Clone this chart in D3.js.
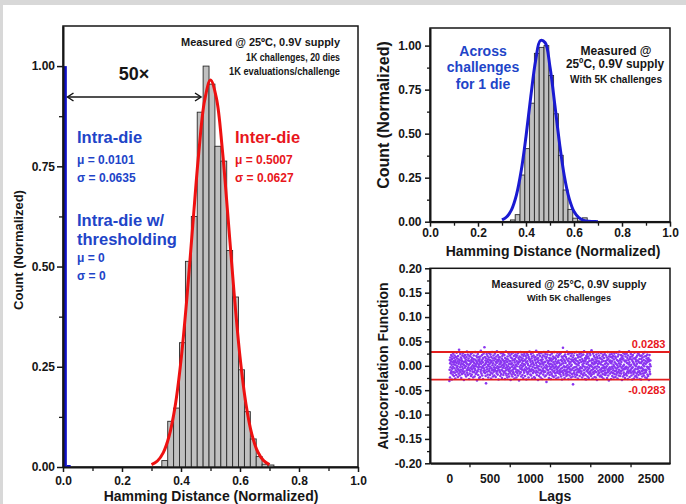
<!DOCTYPE html>
<html><head><meta charset="utf-8">
<script src="https://cdn.jsdelivr.net/npm/d3@7"></script>
<style>
body{margin:0;background:#fff}
svg{display:block}
</style>
</head><body>
<svg id="c" width="686" height="504"></svg>
<script>
// ---------------- DATA ----------------
// Left panel: inter-die HD histogram (bin centers, width 0.02)
const interBinCenters = [0.345,0.365,0.385,0.405,0.425,0.445,0.465,0.485,0.505,0.525,0.545,0.565,0.585,0.605,0.625,0.645,0.665,0.685,0.705];
const interCounts     = [0.016,0.114,0.147,0.31,0.513,0.625,0.885,1.0,0.955,0.80,0.763,0.54,0.424,0.2425,0.138,0.07,0.026,0.007,0.005];
// Intra-die histogram (bin starts, width 0.013)
const intraBinStarts = [0, 0.013];
const intraCounts    = [1.0, 0.005];
// Inter-die Gaussian fit
const interFitX = [0.30,0.32,0.34,0.36,0.38,0.40,0.42,0.44,0.46,0.48,0.50,0.52,0.54,0.56,0.58,0.60,0.62,0.64,0.66,0.68,0.70];
const interFitY = [0.006,0.015,0.036,0.078,0.151,0.266,0.422,0.604,0.782,0.914,0.965,0.920,0.793,0.617,0.434,0.275,0.158,0.082,0.038,0.016,0.006];
// Right-top panel: across challenges for 1 die
const acrossBinCenters = [0.345,0.365,0.385,0.405,0.425,0.445,0.465,0.485,0.505,0.525,0.545,0.565,0.585,0.605,0.625,0.645];
const acrossCounts     = [0.01,0.04,0.265,0.415,0.673,0.956,0.99,1.0,0.83,0.613,0.377,0.18,0.07,0.02,0.004,0.022];
const acrossFitX = [0.30,0.32,0.34,0.36,0.38,0.40,0.42,0.44,0.46,0.48,0.50,0.52,0.54,0.56,0.58,0.60,0.62,0.64,0.66,0.68,0.70];
const acrossFitY = [0.010,0.028,0.069,0.151,0.289,0.484,0.711,0.914,1.029,1.016,0.878,0.665,0.442,0.257,0.131,0.058,0.023,0.008,0.002,0.001,0.000];
// Right-bottom panel: autocorrelation (values in thousandths), lag = 1 + 2.5*index
const acfLagStart = 1, acfLagStep = 2.5;
const acfMilli = [
-31,-8,12,-24,5,17,-3,-15,9,22,-11,2,-28,14,-6,19,-18,7,-2,25,-13,10,-21,3,16,
-5,21,-14,8,-26,12,1,-9,18,-19,6,27,-4,-12,15,-1,9,-23,20,-7,4,-16,13,33,-10,
7,-20,11,-3,24,-13,2,17,-8,-25,14,5,-17,10,-2,21,-11,26,-6,3,-15,19,-29,8,1,
-12,16,-4,22,-18,9,-1,13,-22,6,18,-9,29,-14,3,-6,23,-19,11,-3,15,-8,2,-27,20,
10,-16,4,-10,19,-5,24,-21,7,12,-2,-18,16,-7,27,-12,1,9,-24,14,-4,21,-13,6,-1,
-22,13,-6,28,-9,3,-17,11,-1,20,-14,8,-30,17,5,-11,24,-3,-19,12,-7,2,18,-25,9,
14,-2,-23,6,19,-12,31,-8,4,-16,10,-4,22,-20,13,-1,7,-27,16,-10,25,-5,1,-13,38,
-9,18,-15,3,11,-21,6,-36,15,-3,24,-12,9,-7,20,-18,2,13,-24,8,-1,17,-11,26,-6,
4,-19,12,-2,23,-14,7,-26,18,-5,10,-9,28,-16,1,15,-22,5,-8,21,-12,11,-3,-20,16,
-7,25,-10,2,14,-23,8,-4,19,-15,6,30,-11,12,-1,-18,22,-6,9,-28,17,-3,13,-9,3,
18,-13,5,-21,10,-2,26,-17,7,-8,15,-25,1,20,-10,12,-4,24,-19,3,-14,9,-1,22,-12,
6,-27,16,-5,11,-16,29,-9,2,-20,14,-3,8,-24,19,-7,13,-1,-17,25,-11,4,-22,10,-6,
21,-4,-14,9,-29,17,3,-10,24,-18,5,-2,15,-22,11,-8,27,-13,1,-16,20,-5,12,-26,7,
-3,14,-19,23,-7,2,-12,18,-24,10,-1,21,-15,6,-9,26,-20,4,16,-11,8,-30,13,-2,19,
-16,9,-6,28,-13,1,17,-22,12,-4,23,-8,5,-19,15,-1,10,-25,20,-10,3,-14,24,-7,11,
2,-21,13,-9,20,-3,7,-28,16,-12,25,-6,9,-17,4,22,-14,1,-24,18,-5,14,-11,29,-8,
12,-1,-18,8,-11,24,-20,3,15,-7,19,-26,10,-2,27,-15,6,-9,21,-12,2,-23,17,-4,13,
-25,11,-5,18,-14,6,31,-10,1,-19,14,-3,22,-13,8,-29,16,-6,11,-1,-21,25,-9,5,-16,
20,-8,3,-24,12,-15,26,-2,9,-11,17,-27,5,13,-6,21,-18,2,-10,28,-13,7,-3,19,-22,
8,-12,24,-4,15,-20,1,-33,18,-7,11,-2,23,-16,6,-9,30,-14,10,-25,4,16,-1,-19,12,
-6,22,-13,4,-27,15,-3,10,-17,25,-8,2,-21,13,-1,19,-12,7,-23,16,-5,28,-10,3,-15,
17,-3,9,-20,14,-1,-26,21,-7,5,-14,27,-11,8,-4,18,-24,11,-2,22,-16,6,-9,24,-13,
1,-18,26,-6,12,-22,3,-12,19,-28,9,-4,16,-10,37,-15,5,-19,13,-1,20,-8,-25,10,-3,
23,-11,6,-16,18,-2,-21,14,-8,29,-13,1,-18,11,-5,24,-27,9,-3,15,-12,4,-20,26,-7,
-14,7,-1,20,-24,13,-9,2,25,-17,10,-6,-22,17,-38,12,-4,21,-15,8,-10,27,-3,-18,14,
5,-23,15,-8,11,-2,28,-14,3,-19,22,-6,9,-26,17,-11,1,19,-13,6,-7,24,-21,12,-4,
-10,18,-3,26,-16,8,-12,21,-5,-24,14,2,-18,10,-1,23,-20,5,-9,30,-15,11,-2,-27,16,
9,-6,-19,13,-28,20,4,-11,16,-3,24,-22,7,-8,19,-14,2,-25,15,-5,10,-17,26,-1,-12,
22,-15,1,-21,11,-9,32,-18,6,-2,14,-26,12,-7,25,-13,3,-16,20,-4,8,-23,17,-11,5,
-2,13,-24,7,-13,23,-6,10,-29,18,-1,15,-19,4,-10,27,-16,9,-3,21,-14,6,-22,16,-8,
15,-20,3,-7,26,-12,8,-23,13,-4,19,-17,1,-11,22,-26,10,-5,16,-2,-18,24,-9,4,-14,
-19,10,-4,21,-15,6,-1,17,-25,12,-8,28,-13,3,-20,14,-6,-30,19,-10,9,-3,23,-16,7,
11,-7,18,-27,5,-13,24,-2,9,-21,16,-5,-15,20,-9,2,-24,13,-1,25,-17,7,-11,19,-4,
-23,16,-10,4,-18,27,-6,12,-14,1,-26,19,-3,10,-12,23,-20,5,-8,29,-15,11,-1,-21,14,
3,-11,22,-16,8,-4,17,-29,13,-9,20,-1,-22,15,-6,26,-14,2,-19,11,-7,24,-25,9,-3,
19,-5,-17,11,-2,25,-20,6,-13,16,-8,-27,21,-4,12,-15,3,30,-11,7,-23,14,-1,18,-10,
-8,24,-14,2,-20,13,-5,19,-28,10,-3,22,-12,7,-17,15,-26,4,-9,27,-13,1,-22,16,-6,
13,-21,9,-1,18,-16,4,-24,21,-7,11,-13,26,-4,-19,8,-2,23,-11,14,-27,6,-15,20,-5,
-17,6,-28,14,-3,21,-11,9,-22,17,-6,2,-16,25,-9,12,-20,5,-1,19,-14,28,-8,-24,10,
4,-13,20,-9,15,-25,7,-2,23,-18,12,-5,-21,16,-3,9,-29,13,-7,22,-12,3,-17,11,-1
];
const acfBound = 0.0283;

// Tick labels
const leftXTicks = [0,0.2,0.4,0.6,0.8,1.0];
const leftXMinor = [0.1,0.3,0.5,0.7,0.9];
const countTicks = [0,0.25,0.5,0.75,1.0];
const countMinor = [0.125,0.375,0.625,0.875];
const lagTicks = [0,500,1000,1500,2000,2500];
const lagMinor = [250,750,1250,1750,2250];
const acfTicks = [-0.2,-0.15,-0.1,-0.05,0,0.05,0.1,0.15,0.2];
const acfMinor = [-0.175,-0.125,-0.075,-0.025,0.025,0.075,0.125,0.175];

// ---------------- DRAW ----------------
const FONT = '"Liberation Sans", Arial, Helvetica, sans-serif';
const BLUE_T = "#2144c8", RED = "#e8161c", INK = "#161616";
const svg = d3.select("#c");
svg.append("rect").attr("width",686).attr("height",504).attr("fill","#d8d8d8");
svg.append("rect").attr("x",3).attr("y",5).attr("width",683).attr("height",499).attr("fill","#fff");

function txt(x,y,s,o={}){
  const t = svg.append("text").attr("x",x).attr("y",y).text(s)
    .attr("font-family",FONT).attr("font-weight","bold")
    .attr("font-size",o.size||12).attr("fill",o.fill||INK)
    .attr("text-anchor",o.anchor||"start");
  if(o.len) t.attr("textLength",o.len).attr("lengthAdjust","spacingAndGlyphs");
  if(o.rot) t.attr("transform",`rotate(-90,${x},${y})`);
  return t;
}
function styleAxis(g){
  g.attr("font-family",FONT).attr("font-size",12).attr("font-weight","bold");
  g.select(".domain").attr("stroke",INK).attr("stroke-width",2);
  g.selectAll(".tick line").attr("stroke",INK).attr("stroke-width",1.5);
  g.selectAll(".tick text").attr("fill",INK);
}
function minor(axisFn, scale, vals, size, tx, ty){
  const g = svg.append("g").attr("transform",`translate(${tx},${ty})`)
    .call(axisFn(scale).tickValues(vals).tickSize(size).tickFormat(""));
  g.select(".domain").remove();
  g.selectAll(".tick line").attr("stroke",INK).attr("stroke-width",1.3);
}
const f1 = d=>d.toFixed(1), f2 = d=>d.toFixed(2);

// ===== Left panel =====
const xL = d3.scaleLinear().domain([0,1]).range([63,358]);
const yL = d3.scaleLinear().domain([0,1.1]).range([467,26]);
svg.append("rect").attr("x",63).attr("y",26).attr("width",295).attr("height",441)
  .attr("fill","none").attr("stroke",INK).attr("stroke-width",1.5);
svg.append("g").selectAll("rect").data(interBinCenters).join("rect")
  .attr("x",(c)=>xL(c-0.01)).attr("width",(c)=>xL(c+0.01)-xL(c-0.01))
  .attr("y",(c,i)=>yL(interCounts[i])).attr("height",(c,i)=>yL(0)-yL(interCounts[i]))
  .attr("fill","#c0c0c0").attr("stroke","#2a2a2a").attr("stroke-width",0.9);
svg.append("g").selectAll("rect").data(intraBinStarts).join("rect")
  .attr("x",(s)=>xL(s)).attr("width",(s)=>xL(s+0.013)-xL(s))
  .attr("y",(s,i)=>yL(intraCounts[i])).attr("height",(s,i)=>yL(0)-yL(intraCounts[i]))
  .attr("fill","#1010c8");
svg.append("path").datum(interFitX.map((x,i)=>[x,interFitY[i]]))
  .attr("d",d3.line().x(d=>xL(d[0])).y(d=>yL(d[1])).curve(d3.curveCatmullRom))
  .attr("fill","none").attr("stroke","#ee1111").attr("stroke-width",3);
styleAxis(svg.append("g").attr("transform","translate(0,467)")
  .call(d3.axisBottom(xL).tickValues(leftXTicks).tickFormat(f1).tickSize(5).tickSizeOuter(0).tickPadding(4.5)));
minor(d3.axisBottom, xL, leftXMinor, 4, 0, 467);
styleAxis(svg.append("g").attr("transform","translate(63,0)")
  .call(d3.axisLeft(yL).tickValues(countTicks).tickFormat(f2).tickSize(6).tickSizeOuter(0).tickPadding(2)));
minor(d3.axisLeft, yL, countMinor, 4, 63, 0);
// 50x arrow
const ay = 97, ax1 = 67.5, ax2 = 201;
svg.append("line").attr("x1",ax1).attr("x2",ax2).attr("y1",ay).attr("y2",ay).attr("stroke",INK).attr("stroke-width",1.5);
svg.append("path").attr("d",`M${ax1+6},${ay-4}L${ax1},${ay}L${ax1+6},${ay+4}M${ax2-6},${ay-4}L${ax2},${ay}L${ax2-6},${ay+4}`)
  .attr("fill","none").attr("stroke",INK).attr("stroke-width",1.5);
txt(134,80,"50×",{size:18,anchor:"middle"});
txt(181,46,"Measured @ 25ºC, 0.9V supply",{size:11,len:159});
txt(246,60.5,"1K challenges, 20 dies",{size:10,len:94});
txt(229,74.5,"1K evaluations/challenge",{size:10,len:111});
txt(77,143,"Intra-die",{size:16.5,fill:BLUE_T});
txt(77,164,"μ = 0.0101",{size:12,fill:BLUE_T});
txt(77,182,"σ = 0.0635",{size:12,fill:BLUE_T});
txt(77,226,"Intra-die w/",{size:16.5,fill:BLUE_T});
txt(77,245,"thresholding",{size:16.5,fill:BLUE_T});
txt(77,262,"μ = 0",{size:12,fill:BLUE_T});
txt(77,280,"σ = 0",{size:12,fill:BLUE_T});
txt(235,143,"Inter-die",{size:16.5,fill:RED});
txt(235,164,"μ = 0.5007",{size:12,fill:RED});
txt(235,182,"σ = 0.0627",{size:12,fill:RED});
txt(22.5,250,"Count (Normalized)",{size:13,anchor:"middle",rot:true});
txt(211,501,"Hamming Distance (Normalized)",{size:14,anchor:"middle"});

// ===== Right-top panel =====
const xR = d3.scaleLinear().domain([0,1]).range([430,670]);
const yR = d3.scaleLinear().domain([0,1.1]).range([221.7,28]);
svg.append("rect").attr("x",430).attr("y",28).attr("width",240).attr("height",193.7)
  .attr("fill","none").attr("stroke",INK).attr("stroke-width",1.5);
svg.append("g").selectAll("rect").data(acrossBinCenters).join("rect")
  .attr("x",(c)=>xR(c-0.01)).attr("width",(c)=>xR(c+0.01)-xR(c-0.01))
  .attr("y",(c,i)=>yR(acrossCounts[i])).attr("height",(c,i)=>yR(0)-yR(acrossCounts[i]))
  .attr("fill","#c0c0c0").attr("stroke","#2a2a2a").attr("stroke-width",0.9);
svg.append("path").datum(acrossFitX.map((x,i)=>[x,acrossFitY[i]]))
  .attr("d",d3.line().x(d=>xR(d[0])).y(d=>yR(d[1])).curve(d3.curveCatmullRom))
  .attr("fill","none").attr("stroke","#1a1ad2").attr("stroke-width",3);
styleAxis(svg.append("g").attr("transform","translate(0,221.7)")
  .call(d3.axisBottom(xR).tickValues(leftXTicks).tickFormat(f1).tickSize(5).tickSizeOuter(0).tickPadding(2)));
minor(d3.axisBottom, xR, leftXMinor, 4, 0, 221.7);
styleAxis(svg.append("g").attr("transform","translate(430,0)")
  .call(d3.axisLeft(yR).tickValues(countTicks).tickFormat(f2).tickSize(5).tickSizeOuter(0).tickPadding(3.5)));
minor(d3.axisLeft, yR, countMinor, 3, 430, 0);
txt(483,56,"Across",{size:14,fill:BLUE_T,anchor:"middle"});
txt(483,72,"challenges",{size:14,fill:BLUE_T,anchor:"middle"});
txt(483,89,"for 1 die",{size:14,fill:BLUE_T,anchor:"middle"});
txt(616,55,"Measured @",{size:12,anchor:"middle"});
txt(566,68,"25ºC, 0.9V supply",{size:12,len:98});
txt(570,82.5,"With 5K challenges",{size:10,len:92});
txt(389,115,"Count (Normalized)",{size:16,anchor:"middle",rot:true});
txt(553,256,"Hamming Distance (Normalized)",{size:14,anchor:"middle"});

// ===== Right-bottom panel =====
const xB = d3.scaleLinear().domain([-240,2740]).range([430,670]);
const yB = d3.scaleLinear().domain([-0.2,0.2]).range([463.3,268.3]);
svg.append("rect").attr("x",430).attr("y",268.3).attr("width",240).attr("height",195)
  .attr("fill","none").attr("stroke",INK).attr("stroke-width",1.5);
svg.append("g").selectAll("circle").data(acfMilli).join("circle")
  .attr("cx",(v,i)=>xB(acfLagStart+acfLagStep*i)).attr("cy",v=>yB(v/1000))
  .attr("r",1.3).attr("fill","#8a35f0");
svg.append("g").selectAll("line").data([acfBound,-acfBound]).join("line")
  .attr("x1",xB(-240)).attr("x2",xB(2740)).attr("y1",d=>yB(d)).attr("y2",d=>yB(d))
  .attr("stroke","#e41e1e").attr("stroke-width",1.8);
styleAxis(svg.append("g").attr("transform","translate(0,463.3)")
  .call(d3.axisBottom(xB).tickValues(lagTicks).tickFormat(d=>String(d)).tickSize(0).tickSizeOuter(0).tickPadding(11)));
minor(d3.axisBottom, xB, lagMinor, 4, 0, 463.3);
styleAxis(svg.append("g").attr("transform","translate(430,0)")
  .call(d3.axisLeft(yB).tickValues(acfTicks).tickFormat(f2).tickSize(5).tickSizeOuter(0).tickPadding(3)));
minor(d3.axisLeft, yB, acfMinor, 3, 430, 0);
txt(569,288,"Measured @ 25°C, 0.9V supply",{size:11,anchor:"middle",len:155});
txt(527,300.5,"With 5K challenges",{size:9.5,len:84});
txt(665.5,348,"0.0283",{size:11,fill:RED,anchor:"end"});
txt(665.5,394,"-0.0283",{size:11,fill:RED,anchor:"end"});
txt(388,366,"Autocorrelation Function",{size:14,anchor:"middle",rot:true});
txt(555,501,"Lags",{size:14,anchor:"middle"});
</script>
</body></html>
